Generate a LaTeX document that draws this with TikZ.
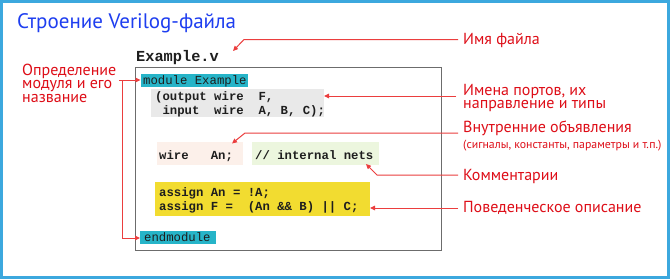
\documentclass[tikz,border=0pt]{standalone}
\usepackage{fontspec}
\setmainfont{PT Sans}
\newfontfamily\codefont{Liberation Mono}
\usetikzlibrary{arrows.meta,calc}
\definecolor{frameblue}{RGB}{60,168,222}
\definecolor{titleblue}{RGB}{30,62,240}
\definecolor{lblred}{RGB}{222,14,24}
\definecolor{arrred}{RGB}{235,62,62}
\definecolor{teal}{RGB}{38,180,200}
\definecolor{portgray}{RGB}{233,233,233}
\definecolor{pinkbg}{RGB}{252,240,234}
\definecolor{greenbg}{RGB}{236,246,222}
\definecolor{yellowbg}{RGB}{242,220,48}
\definecolor{codetext}{RGB}{30,30,30}
\tikzset{
  lbl/.style={text=lblred, font=\fontsize{16}{13.5}\selectfont, inner sep=0pt, anchor=base west, align=left},
  codeline/.style={text=codetext, font=\codefont\bfseries\fontsize{12.3}{12.3}\selectfont, inner sep=0pt, anchor=base west},
  codeplain/.style={text=codetext, font=\codefont\fontsize{12.3}{12.3}\selectfont, inner sep=0pt, anchor=base west},
  arr/.style={draw=arrred, line width=1pt, -{Triangle[length=5pt,width=4.5pt]}}
}
\begin{document}
\begin{tikzpicture}[x=1pt,y=-1pt]
\useasboundingbox (0,0) rectangle (670,279);
\fill[white] (0,0) rectangle (670,279);
\draw[frameblue, line width=2.6pt] (1.5,1.5) rectangle (668.5,277.5);

% title
\node[text=titleblue, font=\fontsize{21}{21}\selectfont, inner sep=0pt, anchor=base west] (title) at (17,28) {Строение Verilog-файла};

% file name
\node[codeline, font=\codefont\bfseries\fontsize{15.3}{15.3}\selectfont] (fname) at (136,61) {Example.v};

% code frame
\draw[draw=gray!85!black, line width=1pt] (135,67.5) rectangle (441,250);

% backgrounds
\fill[teal] (141,73.5) rectangle (248,87);
\fill[portgray] (151,88.5) rectangle (324,117);
\fill[pinkbg] (157,142) rectangle (243,165);
\fill[greenbg] (252,142) rectangle (379,165);
\fill[yellowbg] (155,182) rectangle (370,216);
\fill[teal] (140,230.5) rectangle (216,244);

% code text
\node[codeplain] (mod) at (143,84) {module Example};
\node[codeline] (port1) at (155,100) {(output wire\ \ F,};
\node[codeline] (port2) at (155,114) {\ input\ \ wire\ \ A, B, C);};
\node[codeline] (wire) at (159,159) {wire\ \ \ An;};
\node[codeline] (cmt) at (255,159) {// internal nets};
\node[codeline] (as1) at (159,196) {assign An = !A;};
\node[codeline] (as2) at (159,210) {assign F =\ \ (An \&\& B) || C;};
\node[codeplain] (endm) at (144,241) {endmodule};

% right labels
\node[lbl] (l1) at (463,44) {Имя файла};
\node[lbl] (l2) at (463,108.5) {Имена портов, их\\направление и типы};
\node[lbl, font=\fontsize{16}{16}\selectfont] (l3a) at (463,132) {Внутренние объявления};
\node[lbl, font=\fontsize{11.8}{11.8}\selectfont] (l3b) at (463,148) {(сигналы, константы, параметры и т.п.)};
\node[lbl] (l4) at (463,180) {Комментарии};
\node[lbl] (l5) at (463,212) {Поведенческое описание};

% left label
\node[lbl] (L) at (22,102) {Определение\\модуля и его\\название};

% connector coordinates
\coordinate (c1s) at (458,39.5);
\coordinate (c1b) at (244,39.5);
\coordinate (c1t) at (233,51);
\coordinate (c2s) at (456,96);
\coordinate (c2t) at (324,96);
\coordinate (c3s) at (458,133);
\coordinate (c3b) at (245,133);
\coordinate (c3t) at (232,143.5);
\coordinate (c4s) at (458,175);
\coordinate (c4b) at (377,175);
\coordinate (c4t) at (366,164);
\coordinate (c5s) at (458,208);
\coordinate (c5t) at (370,208);
\coordinate (Ls) at (119,80);
\coordinate (Lb) at (122,80);
\coordinate (modtip) at (140.5,80);
\coordinate (endtip) at (140,238);

\draw[arr] (c1s) -- (c1b) -- (c1t);
\draw[arr] (c2s) -- (c2t);
\draw[arr] (c3s) -- (c3b) -- (c3t);
\draw[arr] (c4s) -- (c4b) -- (c4t);
\draw[arr] (c5s) -- (c5t);
\draw[arr] (Ls) -- (modtip);
\draw[arr] (Lb) |- (endtip);
\end{tikzpicture}
\end{document}
